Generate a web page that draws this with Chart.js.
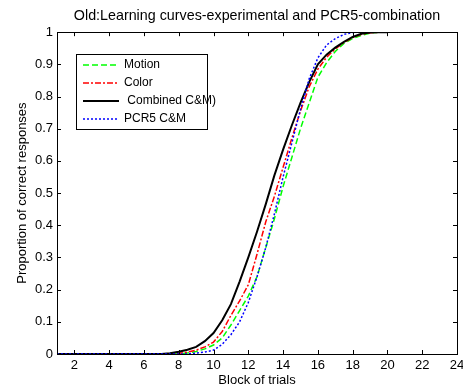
<!DOCTYPE html>
<html>
<head>
<meta charset="utf-8">
<script src="https://cdn.jsdelivr.net/npm/chart.js@4.4.0/dist/chart.umd.min.js"></script>
<style>
  html, body { margin: 0; padding: 0; background: #fff; }
</style>
</head>
<body>
<canvas id="myChart" width="463" height="389"></canvas>
<script>
// block numbers where the curves were read
const blocks = [1, 7, 7.5, 8, 8.5, 9, 9.5, 10, 10.5, 11, 11.5, 12, 12.5, 13, 13.5,
  14, 14.5, 15, 15.5, 16, 16.5, 17, 17.5, 18, 18.5, 19, 19.5, 20, 21];

const motion = [0, 0, 0, 0, 0.003, 0.008, 0.016, 0.028, 0.05, 0.09, 0.135, 0.18, 0.24, 0.33, 0.42,
  0.52, 0.61, 0.7, 0.78, 0.86, 0.905, 0.94, 0.965, 0.98, 0.99, 0.997, 1, 1, null];
const color = [0, 0, 0, 0.002, 0.006, 0.012, 0.022, 0.037, 0.07, 0.12, 0.165, 0.215, 0.31, 0.41, 0.49,
  0.58, 0.67, 0.755, 0.83, 0.885, 0.922, 0.948, 0.968, 0.983, 0.993, 0.998, 1, 1, null];
const combined = [0, 0, 0.002, 0.007, 0.013, 0.022, 0.04, 0.065, 0.105, 0.155, 0.225, 0.3, 0.38, 0.465, 0.555,
  0.635, 0.71, 0.78, 0.845, 0.9, 0.93, 0.952, 0.97, 0.985, 0.995, 0.999, 1, 1, null];
const pcr5 = [0, 0, 0, 0, 0, 0.003, 0.006, 0.012, 0.03, 0.06, 0.1, 0.16, 0.24, 0.33, 0.435,
  0.55, 0.655, 0.76, 0.855, 0.92, 0.96, 0.98, 0.993, 0.999, 1, 1, 1, 1, 1];

const seriesNames = ["Motion", "Color", " Combined C&M)", "PCR5 C&M"];
const xTicks = [2, 4, 6, 8, 10, 12, 14, 16, 18, 20, 22, 24];

const FONT = "'Liberation Sans', Arial, sans-serif";

const toPoints = (arr) => blocks.map((b, i) => ({ x: b, y: arr[i] }));

// matlab style box with inward ticks
const boxPlugin = {
  id: "matlabBox",
  afterDatasetsDraw(chart) {
    const { ctx, chartArea: a, scales } = chart;
    ctx.save();
    ctx.strokeStyle = "#000";
    ctx.lineWidth = 1;
    ctx.strokeRect(Math.round(a.left) + 0.5, Math.round(a.top) + 0.5,
      Math.round(a.right - a.left), Math.round(a.bottom - a.top));
    ctx.beginPath();
    scales.x.ticks.forEach((t) => {
      const px = Math.round(scales.x.getPixelForValue(t.value)) + 0.5;
      ctx.moveTo(px, a.bottom); ctx.lineTo(px, a.bottom - 4);
      ctx.moveTo(px, a.top); ctx.lineTo(px, a.top + 4);
    });
    scales.y.ticks.forEach((t) => {
      const py = Math.round(scales.y.getPixelForValue(t.value)) + 0.5;
      ctx.moveTo(a.left, py); ctx.lineTo(a.left + 4, py);
      ctx.moveTo(a.right, py); ctx.lineTo(a.right - 4, py);
    });
    ctx.stroke();
    ctx.restore();
  },
  afterDraw(chart) {
    const { ctx } = chart;
    const left = 76, top = 54, w = 131, h = 75;
    ctx.save();
    ctx.fillStyle = "#fff";
    ctx.fillRect(left, top, w, h);
    ctx.strokeStyle = "#000";
    ctx.lineWidth = 1;
    ctx.strokeRect(left + 0.5, top + 0.5, w, h);
    ctx.font = "12px " + FONT;
    ctx.textBaseline = "middle";
    chart.data.datasets.forEach((ds, i) => {
      const y = top + 11 + i * 18;
      ctx.strokeStyle = ds.borderColor;
      ctx.lineWidth = ds.borderWidth;
      ctx.setLineDash(ds.borderDash || []);
      ctx.beginPath();
      ctx.moveTo(83, y); ctx.lineTo(119, y);
      ctx.stroke();
      ctx.setLineDash([]);
      ctx.fillStyle = "#000";
      ctx.fillText(ds.label, 124, y);
    });
    ctx.restore();
  },
};

new Chart("myChart", {
  type: "line",
  data: {
    datasets: [
      { label: seriesNames[0], data: toPoints(motion), borderColor: "#00ff00", borderWidth: 1.5, borderDash: [6, 3], order: 3 },
      { label: seriesNames[1], data: toPoints(color), borderColor: "#ff0000", borderWidth: 1.5, borderDash: [6, 2, 2, 2], order: 2 },
      { label: seriesNames[2], data: toPoints(combined), borderColor: "#000000", borderWidth: 2, order: 1 },
      { label: seriesNames[3], data: toPoints(pcr5), borderColor: "#0000ff", borderWidth: 1.5, borderDash: [2, 2], order: 0 },
    ],
  },
  options: {
    responsive: false,
    animation: false,
    elements: { point: { radius: 0 }, line: { tension: 0, fill: false } },
    layout: { padding: { left: 0, right: 6, top: 0, bottom: 0 } },
    plugins: {
      legend: { display: false },
      tooltip: { enabled: false },
      title: {
        display: true,
        fullSize: false,
        text: "Old:Learning curves-experimental and PCR5-combination",
        color: "#000",
        font: { family: FONT, size: 14.3, weight: "normal" },
        padding: { top: 7, bottom: 8 },
      },
    },
    scales: {
      x: {
        type: "linear",
        min: 1,
        max: 24,
        afterBuildTicks: (s) => { s.ticks = xTicks.map((v) => ({ value: v })); },
        afterFit: (s) => { s.height = 35; s.paddingLeft = 0; s.paddingRight = 0; },
        grid: { display: false, drawTicks: false },
        border: { display: false },
        ticks: { color: "#000", padding: 4, maxRotation: 0, font: { family: FONT, size: 13 } },
        title: {
          display: true,
          text: "Block of trials",
          color: "#000",
          font: { family: FONT, size: 13 },
          padding: { top: 0, bottom: 1 },
        },
      },
      y: {
        min: 0,
        max: 1,
        afterFit: (s) => { s.width = 57; },
        grid: { display: false, drawTicks: false },
        border: { display: false },
        ticks: {
          stepSize: 0.1,
          color: "#000",
          padding: 4,
          font: { family: FONT, size: 13 },
          callback: (v) => String(Math.round(v * 10) / 10),
        },
        title: {
          display: true,
          text: "Proportion of correct responses",
          color: "#000",
          font: { family: FONT, size: 13 },
          padding: { top: 15, bottom: 0 },
        },
      },
    },
  },
  plugins: [boxPlugin],
});
</script>
</body>
</html>
